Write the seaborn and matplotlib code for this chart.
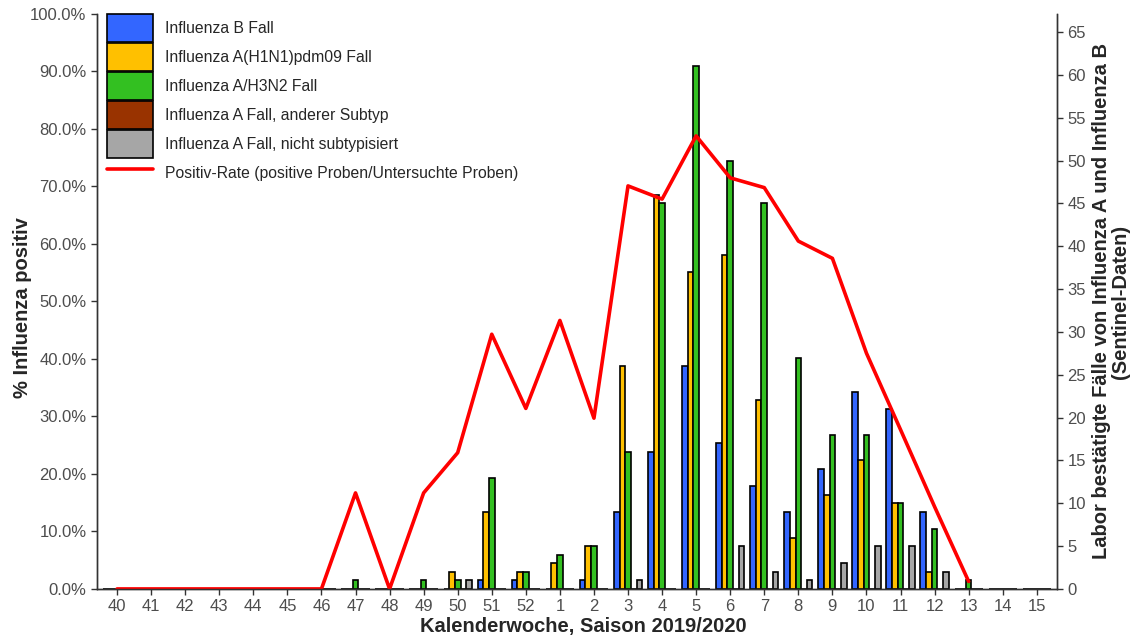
import numpy as np
import pandas as pd
import seaborn as sns
import matplotlib.pyplot as plt
from matplotlib.patches import Patch
from matplotlib.lines import Line2D

# Calendar weeks of the season
weeks = ['40', '41', '42', '43', '44', '45', '46', '47', '48', '49', '50', '51', '52',
         '1', '2', '3', '4', '5', '6', '7', '8', '9', '10', '11', '12', '13', '14', '15']

# Lab confirmed cases per week (right axis)
flu_b      = [0, 0, 0, 0, 0, 0, 0, 0, 0, 0, 0, 1, 1, 0, 1, 9, 16, 26, 17, 12, 9, 14, 23, 21, 9, 0, 0, 0]
flu_h1n1   = [0, 0, 0, 0, 0, 0, 0, 0, 0, 0, 2, 9, 2, 3, 5, 26, 46, 37, 39, 22, 6, 11, 15, 10, 2, 0, 0, 0]
flu_h3n2   = [0, 0, 0, 0, 0, 0, 0, 1, 0, 1, 1, 13, 2, 4, 5, 16, 45, 61, 50, 45, 27, 18, 18, 10, 7, 1, 0, 0]
flu_other  = [0, 0, 0, 0, 0, 0, 0, 0, 0, 0, 0, 0, 0, 0, 0, 0, 0, 0, 0, 0, 0, 0, 0, 0, 0, 0, 0, 0]
flu_nosub  = [0, 0, 0, 0, 0, 0, 0, 0, 0, 0, 1, 0, 0, 0, 0, 1, 0, 0, 5, 2, 1, 3, 5, 5, 2, 0, 0, 0]

# Positive rate in % (left axis)
pos_rate = [0, 0, 0, 0, 0, 0, 0, 16.7, 0, 16.7, 23.7, 44.3, 31.4, 46.7, 29.7, 70.1, 67.8,
            78.8, 71.5, 69.8, 60.5, 57.5, 41.0, 27.7, 14.3, 1.3, np.nan, np.nan]

types = ['Influenza B Fall', 'Influenza A(H1N1)pdm09 Fall', 'Influenza A/H3N2 Fall',
         'Influenza A Fall, anderer Subtyp', 'Influenza A Fall, nicht subtypisiert']
colors = ['#3366FF', '#FFC000', '#33C021', '#993300', '#A6A6A6']

df = pd.DataFrame({'week': weeks, types[0]: flu_b, types[1]: flu_h1n1, types[2]: flu_h3n2,
                   types[3]: flu_other, types[4]: flu_nosub})
df = df.melt(id_vars='week', var_name='type', value_name='count')

sns.set_theme(style='ticks')
plt.rcParams['font.family'] = ['Liberation Sans', 'DejaVu Sans']

fig, ax = plt.subplots(figsize=(11.34, 6.36), dpi=100)
fig.subplots_adjust(left=0.0855, right=0.932, top=0.978, bottom=0.074)

# bars (counts) - drawn first, their scale goes on the right
sns.barplot(data=df, x='week', y='count', hue='type', order=weeks, hue_order=types,
            palette=colors, saturation=1, width=0.83, edgecolor='black', linewidth=1.2,
            errorbar=None, legend=False, ax=ax)

# positive rate line on a twin axis, scale on the left
ax2 = ax.twinx()
sns.lineplot(x=np.arange(len(weeks)), y=pos_rate, color='#FF0000', linewidth=2.6, ax=ax2)

ax.yaxis.tick_right()
ax.yaxis.set_label_position('right')
ax.set_ylim(0, 67.1)
ax.set_yticks(range(0, 70, 5))
ax.set_xlim(-0.59, len(weeks) - 1 + 0.59)
ax.set_xlabel('Kalenderwoche, Saison 2019/2020', fontsize=14.5, fontweight='bold')
ax.xaxis.set_label_coords(0.507, -0.048)
ax.set_ylabel('Labor bestätigte Fälle von Influenza A und Influenza B\n(Sentinel-Daten)',
              fontsize=14.5, fontweight='bold', linespacing=0.95)
ax.yaxis.set_label_coords(1.037, 0.5)

ax2.yaxis.tick_left()
ax2.yaxis.set_label_position('left')
ax2.set_ylim(0, 100)
ax2.set_yticks(range(0, 101, 10))
ax2.set_yticklabels([f'{v:.1f}%' for v in range(0, 101, 10)])
ax2.set_ylabel('% Influenza positiv', fontsize=14.5, fontweight='bold')
ax2.yaxis.set_label_coords(-0.068, 0.49)

for a in (ax, ax2):
    a.spines['top'].set_visible(False)
    for s in ('left', 'right', 'bottom'):
        a.spines[s].set_color('#333333')
        a.spines[s].set_linewidth(1.0)
    a.tick_params(axis='both', labelsize=12, labelcolor='#4D4D4D', color='#333333',
                  length=4, width=1.0)

handles = [Patch(facecolor=c, edgecolor='black', linewidth=1.2) for c in colors]
handles.append(Line2D([], [], color='#FF0000', linewidth=2.6))
labels = types + ['Positiv-Rate (positive Proben/Untersuchte Proben)']
ax2.legend(handles, labels, loc='upper left', bbox_to_anchor=(0.0104, 1.0), frameon=False,
           fontsize=11.3, handlelength=2.93, handleheight=2.37, labelspacing=0.065,
           handletextpad=0.77, borderaxespad=0, borderpad=0)

plt.savefig('out.png', dpi=100)
